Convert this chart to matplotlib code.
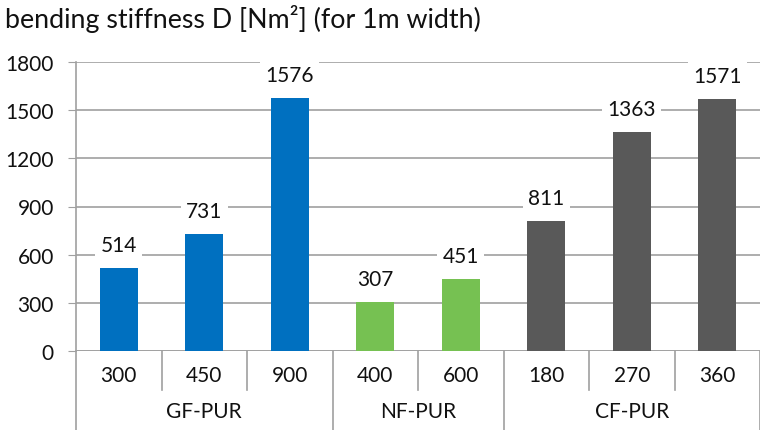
import matplotlib
matplotlib.use("Agg")
import matplotlib.pyplot as plt

groups = ["GF-PUR", "NF-PUR", "CF-PUR"]
sub_labels = [["300", "450", "900"], ["400", "600"], ["180", "270", "360"]]
values = [[514, 731, 1576], [307, 451], [811, 1363, 1571]]
colors = ["#0070C0", "#76C152", "#595959"]
yticks = [0, 300, 600, 900, 1200, 1500, 1800]
title = "bending stiffness D [Nm²] (for 1m width)"

plt.rcParams["font.family"] = ["Lato", "DejaVu Sans"]
W, H = 760, 431
fig = plt.figure(figsize=(W / 100, H / 100), dpi=100)
ax = fig.add_axes([76 / W, (H - 352) / H, 684 / W, 289 / H])

grid_c = "#A0A0A0"
txt_c = "#111111"
fs = 15
n_total = sum(len(v) for v in values)
ax.set_xlim(-0.5, n_total - 0.5)
ax.set_ylim(0, 1800)
ax.set_yticks(yticks)
ax.set_yticklabels([str(t) for t in yticks], fontsize=fs, color=txt_c)
ax.tick_params(axis="y", length=6, color=grid_c, pad=10)
ax.set_xticks([])
ax.grid(axis="y", color=grid_c, linewidth=1.2, zorder=0)
ax.set_axisbelow(True)
for s in ["top", "right", "bottom"]:
    ax.spines[s].set_visible(False)
ax.spines["left"].set_color(grid_c)
ax.spines["left"].set_linewidth(1.2)

trans = ax.get_xaxis_transform()
ax.axhline(0, color=grid_c, linewidth=1.2, zorder=1)

pos = 0
group_edges = [-0.5]
for g, subs, vals, col in zip(groups, sub_labels, values, colors):
    xs = list(range(pos, pos + len(vals)))
    ax.bar(xs, vals, width=0.45, color=col, zorder=2)
    for x, v, lab in zip(xs, vals, subs):
        ax.annotate(str(v), (x, v), xytext=(0, 23), textcoords="offset pixels",
                    ha="center", va="center", fontsize=fs, color=txt_c, zorder=3,
                    bbox=dict(boxstyle="square,pad=0.25", fc="white", ec="none"))
        ax.text(x, -24 / 289, lab, transform=trans, ha="center", va="center",
                fontsize=fs, color=txt_c)
    ax.text((xs[0] + xs[-1]) / 2, -60 / 289, g, transform=trans, ha="center", va="center",
            fontsize=fs, color=txt_c)
    pos += len(vals)
    group_edges.append(pos - 0.5)

# separators of the two-level category axis
for b in range(n_total + 1):
    e = b - 0.5
    bottom = -79 / 289 if e in group_edges else -39 / 289
    ax.plot([e, e], [0, bottom], transform=trans, color=grid_c, linewidth=1.2, clip_on=False)

fig.text(5 / W, 1 - 19 / H, title, ha="left", va="center", fontsize=19.3, color=txt_c)
fig.savefig("out.png", dpi=100)
